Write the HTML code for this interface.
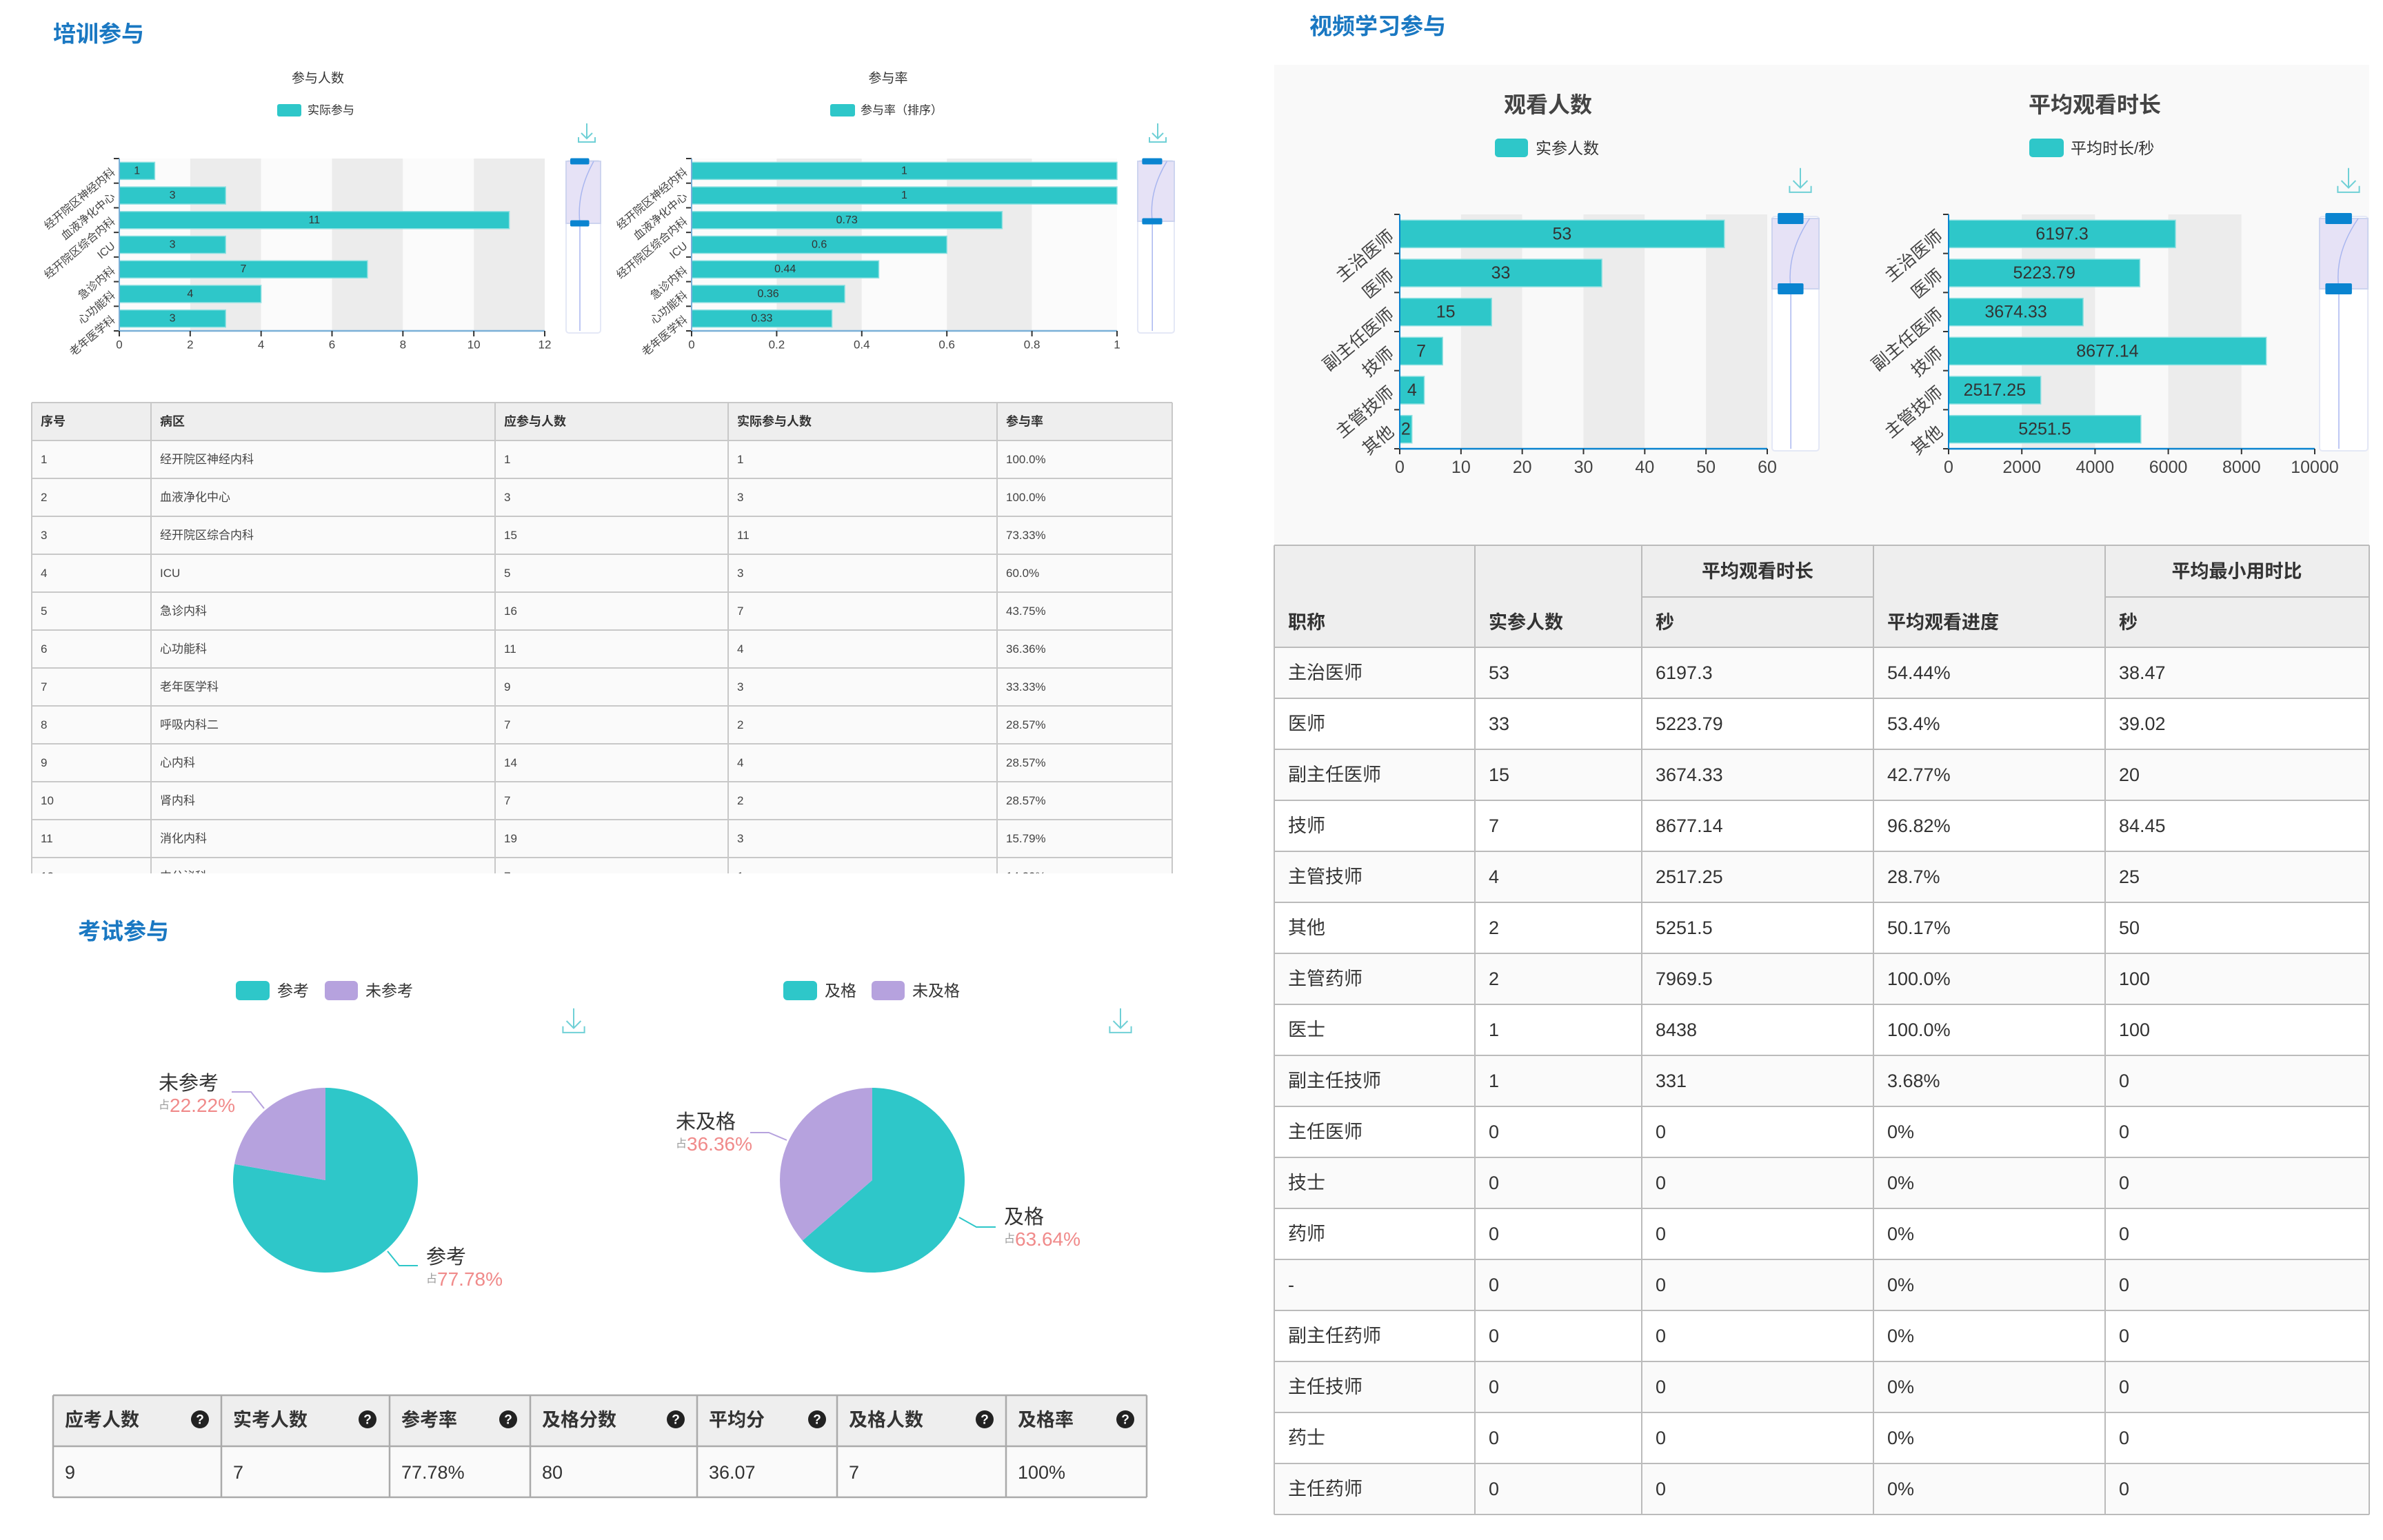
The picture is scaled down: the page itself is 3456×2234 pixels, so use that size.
<!DOCTYPE html>
<html><head><meta charset="utf-8">
<style>
html,body{margin:0;padding:0;background:#fff;}
svg{display:block;font-family:"Liberation Sans","Noto Sans CJK SC",sans-serif;}
</style></head>
<body>
<svg id="s" xmlns="http://www.w3.org/2000/svg" width="3456" height="2234" viewBox="0 0 3456 2234">
<rect x="0" y="0" width="3456" height="2234" fill="#fff"/>
</svg>
<script>
const S=document.getElementById('s');const NS='http://www.w3.org/2000/svg';
function el(t,a,txt){const e=document.createElementNS(NS,t);for(const k in a)e.setAttribute(k,a[k]);if(txt!==undefined)e.textContent=txt;S.appendChild(e);return e;}
function T(x,y,s,txt,o){o=o||{};return el('text',Object.assign({x:x,y:y,'font-size':s,fill:'#333','dominant-baseline':'central'},o),txt);}
const TEAL='#2ec7c9',PUR='#b6a2de',BLUE='#1a78c2';
function icon(x,y,sc){sc=sc||1;el('path',{d:`M${x} ${y-14*sc}V${y+8*sc}M${x-8*sc} ${y}L${x} ${y+8*sc}L${x+8*sc} ${y}M${x-12*sc} ${y+6*sc}V${y+13*sc}H${x+12*sc}V${y+6*sc}`,stroke:'#6fd0d6','stroke-width':2,fill:'none'});}

// Titles
T(77,49,33,'培训参与',{fill:BLUE,'font-weight':'bold'});
T(1899,38,33,'视频学习参与',{fill:BLUE,'font-weight':'bold'});
T(113,1351,33,'考试参与',{fill:BLUE,'font-weight':'bold'});

// right panel bg
el('rect',{x:1848,y:94,width:1588,height:696,fill:'#f9f9f9'});

function hbar(o){
  const n=o.vals.length, band=(o.bot-o.top)/n, W=o.x1-o.x0;
  const ns=o.ticks.length-1;
  for(let i=0;i<ns;i++){const xa=o.x0+W*i/ns;el('rect',{x:xa,y:o.top,width:W/ns,height:o.bot-o.top,fill:i%2?'#ececec':o.bg});}
  o.vals.forEach((v,i)=>{const cy=o.top+band*(i+0.5);const w=W*v/o.max;
    el('rect',{x:o.x0,y:cy-o.bh/2,width:w,height:o.bh,fill:TEAL,stroke:'#8fe0e1','stroke-width':1.5});
    T(o.x0+w/2,cy,o.fs,o.labels[i],{'text-anchor':'middle'});
    const t=T(o.lx,cy,o.cfs,o.cats[i],{'text-anchor':'end',fill:'#444',transform:`rotate(-40 ${o.lx} ${cy})`});
  });
  for(let i=0;i<=n;i++){const y=o.top+band*i;el('line',{x1:o.x0-8,y1:y,x2:o.x0,y2:y,stroke:'#333','stroke-width':2});}
  el('line',{x1:o.x0,y1:o.top,x2:o.x0,y2:o.bot,stroke:o.axis,'stroke-width':2});
  el('line',{x1:o.x0,y1:o.bot,x2:o.x1,y2:o.bot,stroke:o.axis,'stroke-width':2.5});
  o.ticks.forEach((t,i)=>{const x=o.x0+W*i/ns;el('line',{x1:x,y1:o.bot,x2:x,y2:o.bot+8,stroke:'#333','stroke-width':2});T(x,o.ty,o.tfs,t,{'text-anchor':'middle',fill:'#444'});});
  // slider
  const sx=o.sx,sw=o.sw;
  el('rect',{x:sx,y:o.top+3,width:sw,height:o.bot-o.top,fill:'#fff',stroke:'#e4e8f6','stroke-width':2,rx:4});
  el('rect',{x:sx,y:o.h1,width:sw,height:o.h2-o.h1,fill:'#e6e2f6',stroke:'#cdd4ef','stroke-width':2});
  el('path',{d:`M${sx+sw*0.8} ${o.h1} Q${sx+sw*0.3} ${(o.h1+o.h2)/2} ${sx+sw*0.4} ${o.h2} L${sx+sw*0.4} ${o.bot}`,stroke:'#a9b6ef','stroke-width':1.5,fill:'none'});
  const hw=sw*0.55,hh=o.hh;
  el('rect',{x:sx+sw*0.12,y:o.h1-hh/2,width:hw,height:hh,fill:'#0a84d0',rx:2});
  el('rect',{x:sx+sw*0.12,y:o.h2-hh/2,width:hw,height:hh,fill:'#0a84d0',rx:2});
}

// Chart 1
T(461,114,19,'参与人数',{'text-anchor':'middle',fill:'#333'});
el('rect',{x:402,y:151,width:35,height:18,fill:TEAL,rx:3});T(446,160,17,'实际参与');
icon(851,193,1);
const cats1=['经开院区神经内科','血液净化中心','经开院区综合内科','ICU','急诊内科','心功能科','老年医学科'];
hbar({x0:173,x1:790,top:230,bot:480,max:12,vals:[1,3,11,3,7,4,3],labels:['1','3','11','3','7','4','3'],cats:cats1,ticks:['0','2','4','6','8','10','12'],bh:25,fs:16,cfs:16,tfs:17,ty:500,lx:165,axis:'#7ab0d8',bg:'#fbfbfb',sx:821,sw:50,h1:234,h2:324,hh:9});
// Chart 2
T(1288,114,19,'参与率',{'text-anchor':'middle'});
el('rect',{x:1204,y:151,width:36,height:18,fill:TEAL,rx:3});T(1248,160,17,'参与率（排序）');
icon(1679,193,1);
hbar({x0:1003,x1:1620,top:230,bot:480,max:1,vals:[1,1,0.73,0.6,0.44,0.36,0.33],labels:['1','1','0.73','0.6','0.44','0.36','0.33'],cats:cats1,ticks:['0','0.2','0.4','0.6','0.8','1'],bh:25,fs:16,cfs:16,tfs:17,ty:500,lx:995,axis:'#7ab0d8',bg:'#fbfbfb',sx:1650,sw:53,h1:234,h2:321,hh:9});

// Chart 3
T(2245,152,32,'观看人数',{'text-anchor':'middle',fill:'#444','font-weight':'bold'});
el('rect',{x:2168,y:201,width:48,height:27,fill:TEAL,rx:5});T(2227,215,23,'实参人数');
icon(2611,262,1.3);
const cats2=['主治医师','医师','副主任医师','技师','主管技师','其他'];
hbar({x0:2030,x1:2563,top:311,bot:651,max:60,vals:[53,33,15,7,4,2],labels:['53','33','15','7','4','2'],cats:cats2,ticks:['0','10','20','30','40','50','60'],bh:40,fs:25,cfs:25,tfs:25,ty:678,lx:2018,axis:'#0a84d0',bg:'#f9f9f9',sx:2570,sw:68,h1:317,h2:419,hh:16});
// Chart 4
T(3038,152,32,'平均观看时长',{'text-anchor':'middle',fill:'#444','font-weight':'bold'});
el('rect',{x:2943,y:201,width:50,height:27,fill:TEAL,rx:5});T(3003,215,23,'平均时长/秒');
icon(3406,262,1.3);
hbar({x0:2826,x1:3357,top:311,bot:651,max:10000,vals:[6197.3,5223.79,3674.33,8677.14,2517.25,5251.5],labels:['6197.3','5223.79','3674.33','8677.14','2517.25','5251.5'],cats:cats2,ticks:['0','2000','4000','6000','8000','10000'],bh:40,fs:25,cfs:25,tfs:25,ty:678,lx:2814,axis:'#0a84d0',bg:'#f9f9f9',sx:3364,sw:70,h1:317,h2:419,hh:16});

// Table 1
(function(){
  const L=46,R=1700,top=584,hh=55,rh=55,cols=[46,219,718,1056,1446];
  el('clipPath',{id:'c1'});
  const g=document.createElementNS(NS,'g');g.setAttribute('clip-path','url(#c1)');
  const cp=S.lastChild.previousSibling; // not used
  S.appendChild(g);
  const cpath=document.getElementById('c1');const cr=document.createElementNS(NS,'rect');cr.setAttribute('x',0);cr.setAttribute('y',0);cr.setAttribute('width',3456);cr.setAttribute('height',1267);cpath.appendChild(cr);
  function ge(t,a,txt){const e=el(t,a,txt);g.appendChild(e);return e;}
  const rows=[['1','经开院区神经内科','1','1','100.0%'],['2','血液净化中心','3','3','100.0%'],['3','经开院区综合内科','15','11','73.33%'],['4','ICU','5','3','60.0%'],['5','急诊内科','16','7','43.75%'],['6','心功能科','11','4','36.36%'],['7','老年医学科','9','3','33.33%'],['8','呼吸内科二','7','2','28.57%'],['9','心内科','14','4','28.57%'],['10','肾内科','7','2','28.57%'],['11','消化内科','19','3','15.79%'],['12','内分泌科','7','1','14.29%']];
  ge('rect',{x:L,y:top,width:R-L,height:hh,fill:'#eeeeee'});
  ['序号','病区','应参与人数','实际参与人数','参与率'].forEach((h,i)=>{const t=T(cols[i]+13,top+hh/2,18,h,{'font-weight':'bold'});g.appendChild(t);});
  rows.forEach((r,j)=>{const y=top+hh+rh*j;ge('rect',{x:L,y:y,width:R-L,height:rh,fill:'#fafafa'});
    r.forEach((c,i)=>{const t=T(cols[i]+13,y+rh/2,17,c,{fill:'#444'});g.appendChild(t);});});
  for(let j=0;j<=13;j++){const y=top+(j?hh+rh*(j-1):0);ge('line',{x1:L,y1:y,x2:R,y2:y,stroke:'#c8c8c8','stroke-width':2});}
  cols.concat([R]).forEach(x=>ge('line',{x1:x,y1:top,x2:x,y2:1300,stroke:'#c8c8c8','stroke-width':2}));
})();

// Right table
(function(){
  const cols=[1848,2139,2381,2717,3053],R=3436,top=791,mid=866,hb=939,rh=74;
  el('rect',{x:1848,y:top,width:R-1848,height:hb-top,fill:'#eeeeee'});
  const fs=27;
  T(1868,903,fs,'职称',{'font-weight':'bold'});T(2159,903,fs,'实参人数',{'font-weight':'bold'});
  T(2549,829,fs,'平均观看时长',{'font-weight':'bold','text-anchor':'middle'});T(2401,903,fs,'秒',{'font-weight':'bold'});
  T(2737,903,fs,'平均观看进度',{'font-weight':'bold'});
  T(3244,829,fs,'平均最小用时比',{'font-weight':'bold','text-anchor':'middle'});T(3073,903,fs,'秒',{'font-weight':'bold'});
  const rows=[['主治医师','53','6197.3','54.44%','38.47'],['医师','33','5223.79','53.4%','39.02'],['副主任医师','15','3674.33','42.77%','20'],['技师','7','8677.14','96.82%','84.45'],['主管技师','4','2517.25','28.7%','25'],['其他','2','5251.5','50.17%','50'],['主管药师','2','7969.5','100.0%','100'],['医士','1','8438','100.0%','100'],['副主任技师','1','331','3.68%','0'],['主任医师','0','0','0%','0'],['技士','0','0','0%','0'],['药师','0','0','0%','0'],['-','0','0','0%','0'],['副主任药师','0','0','0%','0'],['主任技师','0','0','0%','0'],['药士','0','0','0%','0'],['主任药师','0','0','0%','0']];
  rows.forEach((r,j)=>{const y=hb+rh*j;el('rect',{x:1848,y:y,width:R-1848,height:rh,fill:j%2?'#ffffff':'#fafafa'});
    r.forEach((c,i)=>T(cols[i]+20,y+rh/2,fs,c,{fill:'#333'}));});
  const bot=hb+rh*rows.length;
  el('line',{x1:2381,y1:mid,x2:2717,y2:mid,stroke:'#bbb','stroke-width':2});
  el('line',{x1:3053,y1:mid,x2:R,y2:mid,stroke:'#bbb','stroke-width':2});
  el('line',{x1:1848,y1:top,x2:R,y2:top,stroke:'#bbb','stroke-width':2});
  for(let j=0;j<=rows.length;j++){const y=hb+rh*j;el('line',{x1:1848,y1:y,x2:R,y2:y,stroke:'#bbb','stroke-width':2});}
  cols.concat([R]).forEach(x=>el('line',{x1:x,y1:top,x2:x,y2:bot,stroke:'#bbb','stroke-width':2}));
})();

// Pies
function pie(cx,cy,r,frac){
  const a=frac*2*Math.PI;const ex=cx+r*Math.sin(a),ey=cy-r*Math.cos(a);
  el('path',{d:`M${cx} ${cy}L${cx} ${cy-r}A${r} ${r} 0 ${frac>0.5?1:0} 1 ${ex} ${ey}Z`,fill:TEAL});
  el('path',{d:`M${cx} ${cy}L${ex} ${ey}A${r} ${r} 0 ${frac>0.5?0:1} 1 ${cx} ${cy-r}Z`,fill:PUR});
}
function plabel(x,y,name,pct,anchorLeft){
  T(x,y,29,name,{fill:'#333'});
  const t=el('text',{x:x,y:y+31,'font-size':28,'dominant-baseline':'central',fill:'#f08a8a'});
  const s1=document.createElementNS(NS,'tspan');s1.setAttribute('font-size',16);s1.setAttribute('fill','#999');s1.textContent='占';t.appendChild(s1);
  const s2=document.createElementNS(NS,'tspan');s2.textContent=pct;t.appendChild(s2);
}
// legend pies
el('rect',{x:342,y:1423,width:49,height:28,fill:TEAL,rx:6});T(402,1437,23,'参考');
el('rect',{x:471,y:1423,width:48,height:28,fill:PUR,rx:6});T(530,1437,23,'未参考');
el('rect',{x:1136,y:1423,width:49,height:28,fill:TEAL,rx:6});T(1196,1437,23,'及格');
el('rect',{x:1264,y:1423,width:48,height:28,fill:PUR,rx:6});T(1323,1437,23,'未及格');
icon(832,1481,1.3);icon(1625,1481,1.3);
pie(472,1712,134,0.7778);pie(1265,1712,134,0.6364);
el('polyline',{points:'383,1608 364,1584 336,1584',fill:'none',stroke:PUR,'stroke-width':2});
el('polyline',{points:'562,1815 579,1836 606,1836',fill:'none',stroke:TEAL,'stroke-width':2});
el('polyline',{points:'1141,1654 1115,1643 1088,1643',fill:'none',stroke:PUR,'stroke-width':2});
el('polyline',{points:'1391,1766 1416,1780 1444,1780',fill:'none',stroke:TEAL,'stroke-width':2});
plabel(230,1572,'未参考','22.22%');
plabel(618,1824,'参考','77.78%');
plabel(980,1628,'未及格','36.36%');
plabel(1456,1766,'及格','63.64%');

// bottom table
(function(){
  const cols=[77,321,565,769,1011,1214,1459],R=1663,top=2024,mid=2098,bot=2172;
  el('rect',{x:77,y:top,width:R-77,height:mid-top,fill:'#eeeeee'});
  el('rect',{x:77,y:mid,width:R-77,height:bot-mid,fill:'#fafafa'});
  const hs=['应考人数','实考人数','参考率','及格分数','平均分','及格人数','及格率'],vs=['9','7','77.78%','80','36.07','7','100%'];
  const qx=[290,533,737,980,1185,1428,1632];
  hs.forEach((h,i)=>{T(cols[i]+17,2060,27,h,{'font-weight':'bold'});el('circle',{cx:qx[i],cy:2059,r:13,fill:'#222'});T(qx[i],2060,19,'?',{fill:'#fff','text-anchor':'middle','font-weight':'bold'});T(cols[i]+17,2136,27,vs[i]);});
  [top,mid,bot].forEach(y=>el('line',{x1:77,y1:y,x2:R,y2:y,stroke:'#aaa','stroke-width':2.5}));
  cols.concat([R]).forEach(x=>el('line',{x1:x,y1:top,x2:x,y2:bot,stroke:'#aaa','stroke-width':2.5}));
})();
</script>
</body></html>
